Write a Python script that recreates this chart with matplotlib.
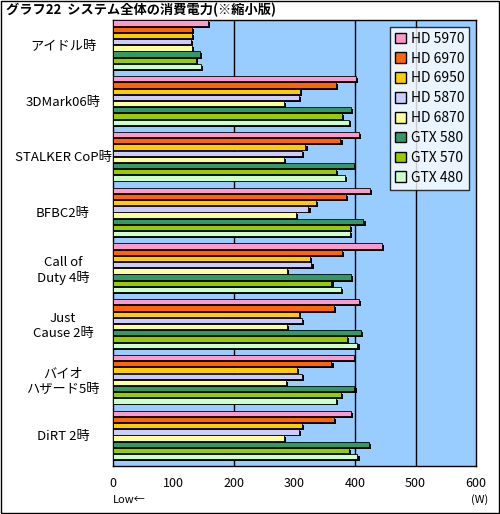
import matplotlib
matplotlib.use("Agg")
import matplotlib.pyplot as plt
from matplotlib.patches import Patch

plt.rcParams['font.family'] = ['Noto Sans CJK JP', 'DejaVu Sans']

categories = ["アイドル時", "3DMark06時", "STALKER CoP時", "BFBC2時",
              "Call of\nDuty 4時", "Just\nCause 2時", "バイオ\nハザード5時", "DiRT 2時"]
series = ["HD 5970", "HD 6970", "HD 6950", "HD 5870", "HD 6870", "GTX 580", "GTX 570", "GTX 480"]
colors = ["#FF99CC", "#FF6600", "#FFCC00", "#CCCCFF", "#FFFF99", "#339966", "#99CC00", "#CCFFCC"]
values = [
    [157, 402, 407, 424, 444, 407, 398, 394],
    [131, 369, 376, 385, 379, 365, 361, 365],
    [131, 309, 318, 335, 326, 307, 304, 312],
    [129, 308, 313, 323, 328, 313, 312, 308],
    [131, 283, 283, 303, 288, 288, 286, 282],
    [144, 394, 398, 414, 394, 410, 399, 423],
    [137, 379, 369, 392, 361, 387, 377, 390],
    [145, 390, 383, 391, 377, 404, 369, 404],
]

fig = plt.figure(figsize=(5.0, 5.14), dpi=100)
fig.patch.set_facecolor("white")
ax = fig.add_axes([113/500, 1-466/514, 363/500, 446/514])
ax.set_facecolor("#99CCFF")

slot = 9
for s, (name, col, vals) in enumerate(zip(series, colors, values)):
    ys = [g*slot + s + 0.5 for g in range(len(categories))]
    ax.barh([y + 0.3 for y in ys], [v + 3.5 for v in vals], height=0.85, color="black", zorder=2)
    ax.barh(ys, vals, height=0.85, color=col, edgecolor="black", linewidth=0.6, zorder=3)

for x in [200, 400, 500]:
    ax.axvline(x, color="black", lw=1, zorder=1)

ax.set_xlim(0, 600)
ax.set_ylim(len(categories)*slot, 0)
ax.set_yticks([g*slot + 4 for g in range(len(categories))])
ax.set_yticklabels(categories, fontsize=9.5, ha="center")
ax.tick_params(axis="y", length=0, pad=36)
ax.set_xticks([0, 100, 200, 300, 400, 500, 600])
ax.tick_params(axis="x", labelsize=9, length=0, pad=8)
for sp in ax.spines.values():
    sp.set_color("black")
    sp.set_linewidth(1)

handles = [Patch(facecolor=c, edgecolor="black", label=n) for n, c in zip(series, colors)]
leg = ax.legend(handles=handles, loc="upper right", fontsize=10, frameon=True, fancybox=False,
                handlelength=0.8, handleheight=0.8, handletextpad=0.3, labelspacing=0.42,
                borderaxespad=0.5, borderpad=0.35)
leg.get_frame().set_edgecolor("black")
leg.get_frame().set_linewidth(1)
leg.set_zorder(5)

fig.text(6/500, 1-10/514, "グラフ22  システム全体の消費電力(※縮小版)", fontsize=9.5,
         fontweight="bold", va="center", ha="left")
fig.text(113/500, 1-500/514, "Low←", fontsize=8, va="center", ha="left")
fig.text(488/500, 1-500/514, "(W)", fontsize=8, va="center", ha="right")
border = plt.Rectangle((0.002, 0.002), 0.996, 0.996, transform=fig.transFigure,
                       fill=False, edgecolor="black", lw=1)
fig.patches.append(border)

fig.savefig("out.png", dpi=100)
